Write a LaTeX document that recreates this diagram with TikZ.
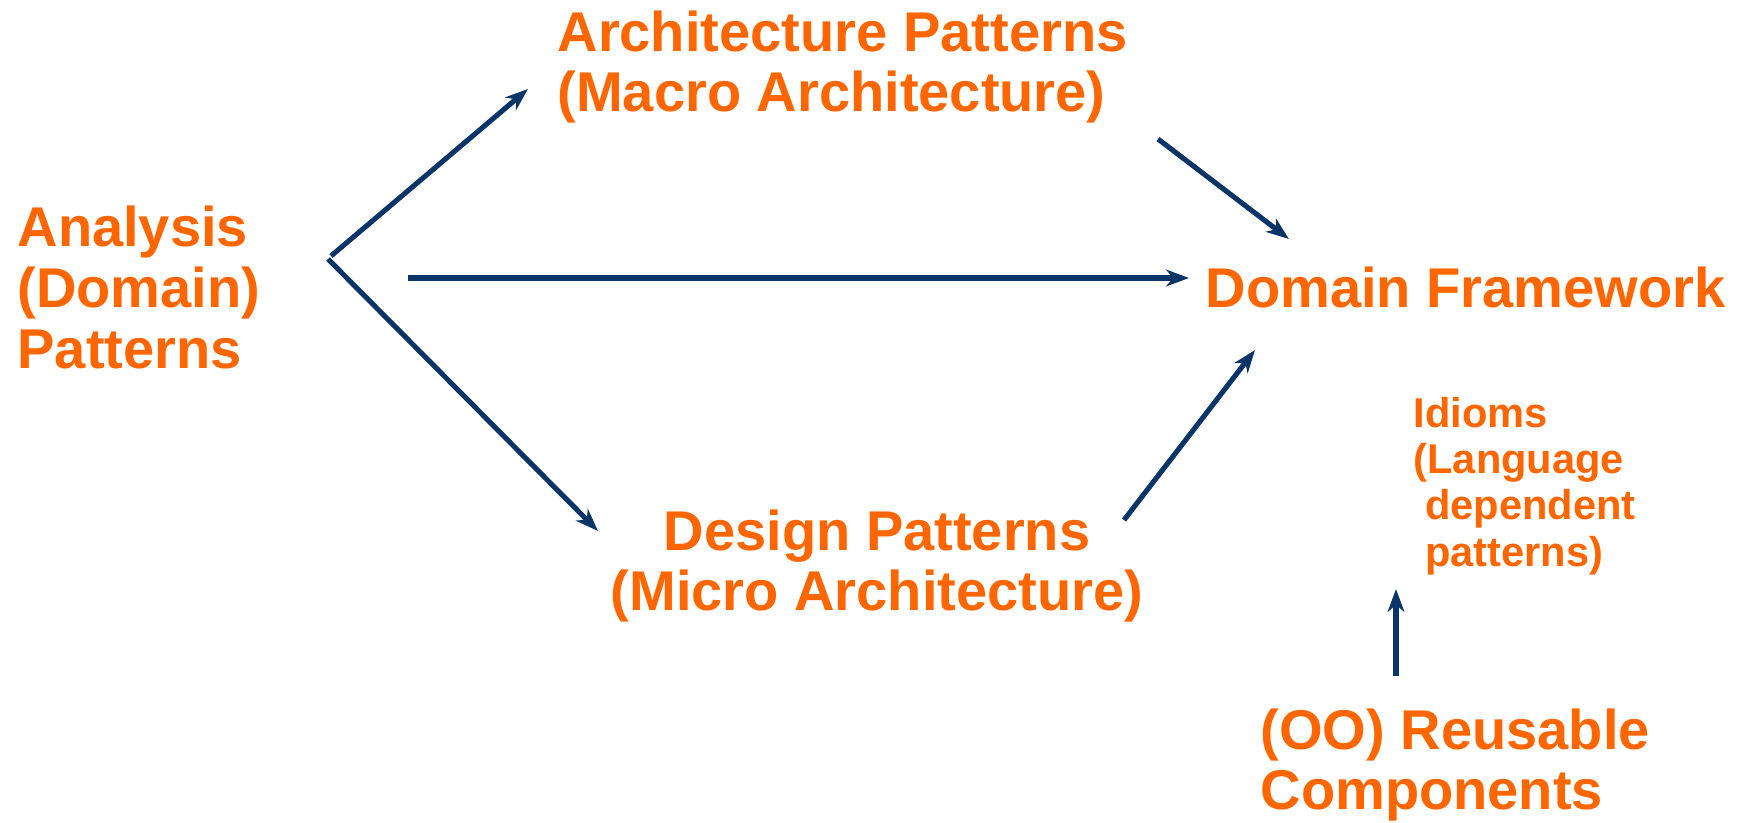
\documentclass[tikz,border=0pt]{standalone}
\usepackage{fontspec}
\setmainfont{Liberation Sans}
\usepackage{xcolor}
\usetikzlibrary{arrows.meta}

\definecolor{patorange}{HTML}{FF6600}
\definecolor{patblue}{HTML}{0B3566}

\begin{document}
\begin{tikzpicture}[x=0.02cm, y=-0.02cm,
                >={Stealth[length=13pt,width=9.5pt,inset=4pt]}, line width=2.9pt,
                pat node/.style={inner sep=0pt, text=patorange, align=left,
                  font=\bfseries\fontsize{31.9}{34.7}\selectfont},
                small node/.style={pat node, font=\bfseries\fontsize{23.7}{26.3}\selectfont}]

  \useasboundingbox (0,0) rectangle (1742,822);

  \node[pat node, anchor=west] (1) at (15,287) {Analysis\\(Domain)\\Patterns};
  \node[pat node, anchor=west] (2) at (555,67) {Architecture Patterns\\(Macro Architecture)};
  \node[pat node, align=center] (3) at (877,566) {Design Patterns\\(Micro Architecture)};
  \node[pat node, anchor=west] (4) at (1203,287) {Domain Framework};
  \node[small node, anchor=west] (5) at (1411,486)
    {Idioms\\(Language\\\hspace*{.28em}dependent\\\hspace*{.28em}patterns)};
  \node[pat node, anchor=west] (6) at (1258,765) {(OO) Reusable\\Components};

  % arrow ends
  \coordinate (1a) at (331,256);
  \coordinate (1b) at (328,259);
  \coordinate (1c) at (408,278);
  \coordinate (2a) at (528,89);
  \coordinate (2b) at (1158,139);
  \coordinate (3a) at (598,531);
  \coordinate (3b) at (1124,520);
  \coordinate (4a) at (1289,239);
  \coordinate (4b) at (1189,278);
  \coordinate (4c) at (1255,350);
  \coordinate (5a) at (1396,589);
  \coordinate (6a) at (1396,676);

  \path
    (1a) edge [->, patblue] (2a)
    (1b) edge [->, patblue] (3a)
    (1c) edge [->, patblue] (4b)
    (2b) edge [->, patblue] (4a)
    (3b) edge [->, patblue] (4c)
    (6a) edge [->, patblue] (5a);
\end{tikzpicture}
\end{document}
